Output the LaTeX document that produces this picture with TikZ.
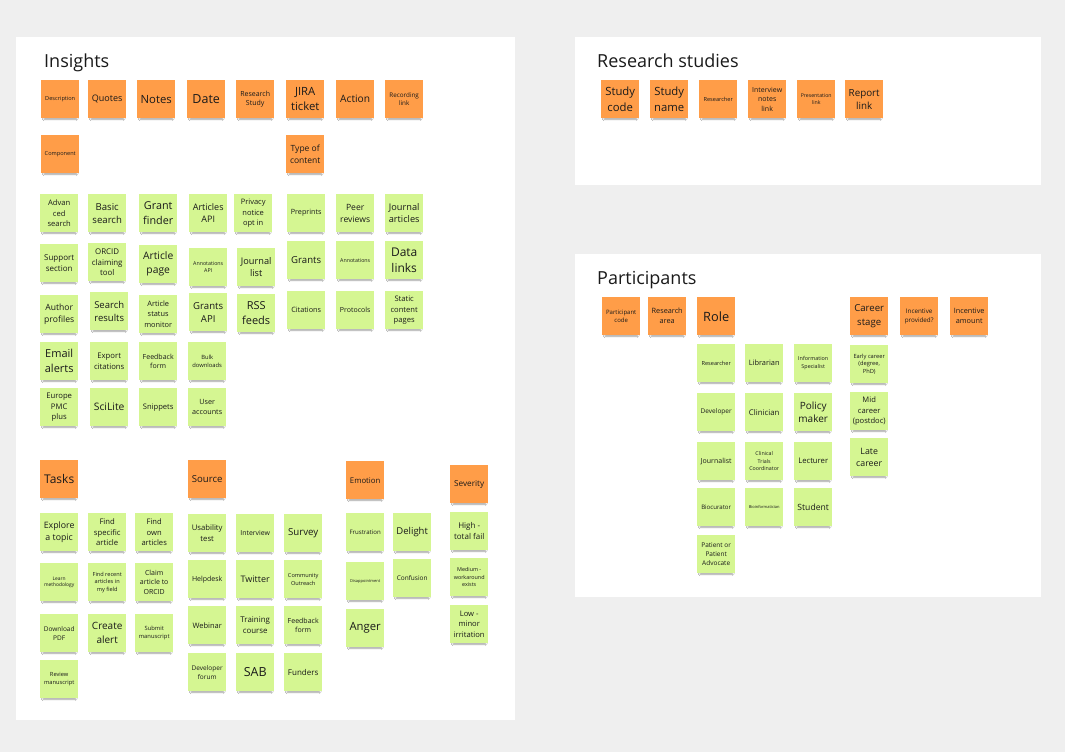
\documentclass[tikz,border=0pt]{standalone}
\usepackage{fontspec}
\setmainfont{Open Sans}
\usetikzlibrary{shadows.blur}
\definecolor{bg}{HTML}{EFEFEF}
\definecolor{orng}{HTML}{FF9D48}
\definecolor{grn}{HTML}{D5F692}
\definecolor{ink}{HTML}{1A1A1A}
\newcommand\fs[1]{\fontsize{#1}{\fpeval{#1*1.36}}\selectfont}
\tikzset{
  panel/.style={fill=white,draw=none},
  stk/.style={anchor=north west,minimum width=38pt,minimum height=38pt,inner sep=0pt,
    align=center,text=ink,
    blur shadow={shadow xshift=0pt,shadow yshift=-4.5pt,shadow scale=0.85,shadow blur radius=2pt,shadow opacity=38}},
  o/.style={stk,fill=orng},
  g/.style={stk,fill=grn},
  ttl/.style={anchor=base west,inner sep=0pt,text=ink,font=\fs{18}}
}
% \stk{name}{x}{y}{style}{size}{text}
\newcommand\stk[6]{\node[#4,font=\fs{#5}] (#1) at (#2,#3) {#6};}
\begin{document}
\begin{tikzpicture}[x=1pt,y=-1pt]
\useasboundingbox[fill=bg] (0,0) rectangle (1065,752);
\fill[panel] (16,37) rectangle (515,720);
\fill[panel] (575,37) rectangle (1041,185);
\fill[panel] (575,254) rectangle (1041,597);
\node[ttl] (tIns) at (44,67) {Insights};
\node[ttl] (tRes) at (597,67) {Research studies};
\node[ttl] (tPar) at (597,284) {Participants};
% Insights orange
\stk{description}{41}{80}{o}{5.6}{Description}
\stk{quotes}{88}{80}{o}{9}{Quotes}
\stk{notes}{137}{80}{o}{11.3}{Notes}
\stk{date}{187}{80}{o}{12.5}{Date}
\stk{rstudy}{236}{80}{o}{7}{Research\\Study}
\stk{jira}{286}{80}{o}{11.3}{JIRA\\ticket}
\stk{action}{336}{80}{o}{10.2}{Action}
\stk{recording}{385}{80}{o}{6.3}{Recording\\link}
\stk{component}{41}{135}{o}{5.6}{Component}
\stk{typecontent}{286}{135}{o}{8.5}{Type of\\content}
% Insights green
\stk{advsearch}{40}{194}{g}{7.6}{Advan\\ced\\search}
\stk{basicsearch}{88}{194}{g}{9.6}{Basic\\search}
\stk{grantfinder}{139}{194}{g}{10.8}{Grant\\finder}
\stk{articlesapi}{189}{194}{g}{9}{Articles\\API}
\stk{privacy}{234}{194}{g}{7.5}{Privacy\\notice\\opt in}
\stk{preprints}{287}{194}{g}{7.2}{Preprints}
\stk{peerrev}{336}{194}{g}{8.6}{Peer\\reviews}
\stk{journalart}{385}{194}{g}{9.2}{Journal\\articles}
\stk{support}{40}{244}{g}{8}{Support\\section}
\stk{orcid}{88}{243}{g}{7.9}{ORCID\\claiming\\tool}
\stk{artpage}{139}{245}{g}{10.3}{Article\\page}
\stk{annotapi}{189}{248}{g}{5.3}{Annotations\\API}
\stk{journallist}{237}{248}{g}{9.2}{Journal\\list}
\stk{grants}{287}{241}{g}{9.6}{Grants}
\stk{annotations}{336}{241}{g}{5.3}{Annotations}
\stk{datalinks}{385}{241}{g}{12}{Data\\links}
\stk{author}{40}{295}{g}{8.6}{Author\\profiles}
\stk{searchres}{90}{292}{g}{9.5}{Search\\results}
\stk{artstatus}{139}{295}{g}{7.4}{Article\\status\\monitor}
\stk{grantsapi}{189}{293}{g}{9.6}{Grants\\API}
\stk{rss}{237}{294}{g}{11}{RSS\\feeds}
\stk{citations}{287}{291}{g}{7.3}{Citations}
\stk{protocols}{336}{291}{g}{7}{Protocols}
\stk{static}{385}{291}{g}{7.6}{Static\\content\\pages}
\stk{email}{40}{342}{g}{11}{Email\\alerts}
\stk{export}{90}{342}{g}{7.7}{Export\\citations}
\stk{feedback}{139}{342}{g}{7}{Feedback\\form}
\stk{bulk}{188}{342}{g}{5.8}{Bulk\\downloads}
\stk{europe}{40}{388}{g}{7.7}{Europe\\PMC\\plus}
\stk{scilite}{90}{388}{g}{10.3}{SciLite}
\stk{snippets}{139}{388}{g}{7.6}{Snippets}
\stk{user}{188}{388}{g}{7.2}{User\\accounts}
% Tasks
\stk{tasks}{40}{460}{o}{12}{Tasks}
\stk{explore}{40}{513}{g}{8.8}{Explore\\a topic}
\stk{findspec}{88}{513}{g}{7.7}{Find\\specific\\article}
\stk{findown}{135}{513}{g}{7.6}{Find\\own\\articles}
\stk{learn}{40}{563}{g}{4.9}{Learn\\methodology}
\stk{findrecent}{88}{563}{g}{5.6}{Find recent\\articles in\\my field}
\stk{claim}{135}{563}{g}{7}{Claim\\article to\\ORCID}
\stk{download}{40}{614}{g}{6.5}{Download\\PDF}
\stk{createalert}{88}{614}{g}{10}{Create\\alert}
\stk{submit}{135}{614}{g}{5.8}{Submit\\manuscript}
\stk{review}{40}{660}{g}{5.7}{Review\\manuscript}
% Source
\stk{source}{188}{460}{o}{9.6}{Source}
\stk{usability}{188}{514}{g}{7.7}{Usability\\test}
\stk{interview}{236}{514}{g}{6.9}{Interview}
\stk{survey}{284}{514}{g}{9.7}{Survey}
\stk{helpdesk}{188}{560}{g}{7}{Helpdesk}
\stk{twitter}{236}{560}{g}{9}{Twitter}
\stk{community}{284}{560}{g}{5.6}{Community\\Outreach}
\stk{webinar}{188}{606}{g}{7.5}{Webinar}
\stk{training}{236}{606}{g}{7.9}{Training\\course}
\stk{feedbackform}{284}{606}{g}{7}{Feedback\\form}
\stk{devforum}{188}{653}{g}{6.5}{Developer\\forum}
\stk{sab}{236}{653}{g}{12.5}{SAB}
\stk{funders}{284}{653}{g}{8}{Funders}
% Emotion
\stk{emotion}{346}{461}{o}{7.8}{Emotion}
\stk{frustration}{346}{513}{g}{6.1}{Frustration}
\stk{delight}{393}{513}{g}{9.5}{Delight}
\stk{disappoint}{346}{562}{g}{4}{Disappointment}
\stk{confusion}{393}{559}{g}{6.5}{Confusion}
\stk{anger}{346}{609}{g}{11.3}{Anger}
% Severity
\stk{severity}{450}{465}{o}{8.2}{Severity}
\stk{high}{450}{512}{g}{8}{High -\\total fail}
\stk{medium}{450}{558}{g}{5.4}{Medium -\\workaround\\exists}
\stk{low}{450}{605}{g}{7.6}{Low -\\minor\\irritation}
% Research studies
\stk{studycode}{601}{80}{o}{11.3}{Study\\code}
\stk{studyname}{650}{80}{o}{11.3}{Study\\name}
\stk{researcher}{699}{80}{o}{5.6}{Researcher}
\stk{intnotes}{748}{80}{o}{7}{Interview\\notes\\link}
\stk{presentation}{797}{80}{o}{5.2}{Presentation\\link}
\stk{report}{845}{80}{o}{9.8}{Report\\link}
% Participants
\stk{partcode}{602}{297}{o}{6}{Participant\\code}
\stk{resarea}{648}{297}{o}{7.3}{Research\\area}
\stk{role}{697}{297}{o}{12.8}{Role}
\stk{career}{850}{297}{o}{9.6}{Career\\stage}
\stk{incprov}{900}{297}{o}{6.3}{Incentive\\provided?}
\stk{incamt}{950}{297}{o}{7.3}{Incentive\\amount}
% Role
\stk{rresearcher}{697}{344}{g}{5.6}{Researcher}
\stk{librarian}{745}{344}{g}{7.4}{Librarian}
\stk{infospec}{794}{344}{g}{5.4}{Information\\Specialist}
\stk{developer}{697}{393}{g}{6.5}{Developer}
\stk{clinician}{745}{393}{g}{7.8}{Clinician}
\stk{policy}{794}{393}{g}{10}{Policy\\maker}
\stk{journalist}{697}{442}{g}{7}{Journalist}
\stk{clintrials}{745}{442}{g}{5.3}{Clinical\\Trials\\Coordinator}
\stk{lecturer}{794}{442}{g}{7.7}{Lecturer}
\stk{biocurator}{697}{488}{g}{6.1}{Biocurator}
\stk{bioinfo}{745}{488}{g}{4}{Bioinformatician}
\stk{student}{794}{488}{g}{8.6}{Student}
\stk{patient}{697}{535}{g}{6.5}{Patient or\\Patient\\Advocate}
% Career
\stk{early}{850}{345}{g}{5.7}{Early career\\(degree,\\PhD)}
\stk{mid}{850}{392}{g}{7.6}{Mid\\career\\(postdoc)}
\stk{late}{850}{438}{g}{8.8}{Late\\career}
\end{tikzpicture}
\end{document}
